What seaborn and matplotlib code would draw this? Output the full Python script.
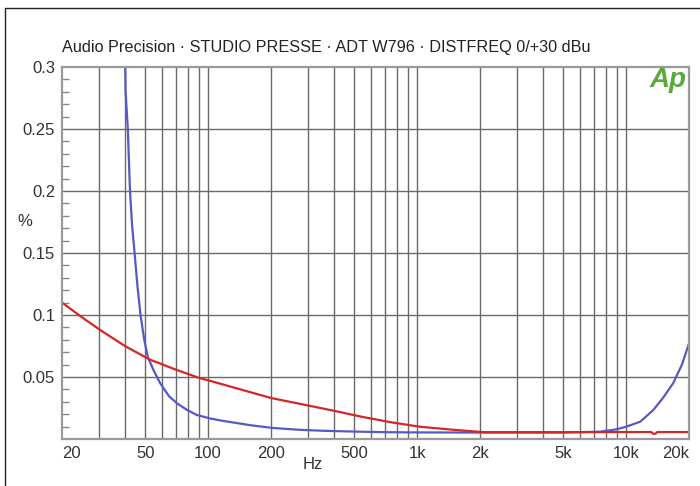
import numpy as np
import pandas as pd
import seaborn as sns
import matplotlib.pyplot as plt
from matplotlib.lines import Line2D

# THD+N vs frequency
blue_freq = [40, 40.3, 41.3, 42.3, 43.3, 44.5, 46, 47.5, 49.5, 51.5, 55, 59, 65, 71, 79,
             88, 102, 115, 132, 160, 204, 275, 360, 500, 700, 1000, 2000, 5000, 7500,
             9000, 10000, 11700, 13500, 15000, 16800, 18500, 20000]
blue_thd = [0.32, 0.28, 0.25, 0.20, 0.172, 0.15, 0.122, 0.10, 0.08, 0.066, 0.055, 0.045, 0.0345,
            0.0288, 0.0236, 0.0195, 0.0166, 0.0149, 0.0133, 0.0111, 0.0089, 0.0074, 0.0066,
            0.006, 0.0055, 0.0053, 0.0052, 0.0052, 0.0059, 0.0078, 0.0099, 0.014, 0.0234,
            0.033, 0.045, 0.06, 0.077]

red_freq = [20, 25, 30.4, 40, 52.7, 70, 91.5, 98.8, 150, 201, 327, 420, 541, 750, 1030,
            1520, 2100, 5000, 10000, 13200, 13500, 13800, 14100, 20000]
red_thd = [0.110, 0.098, 0.088, 0.075, 0.064, 0.056, 0.049, 0.0476, 0.039, 0.033,
           0.0258, 0.022, 0.018, 0.0135, 0.0099, 0.0073, 0.0055, 0.0055, 0.0056, 0.0056,
           0.0042, 0.0042, 0.0056, 0.0056]

xtick_vals = [20, 50, 100, 200, 500, 1000, 2000, 5000, 10000, 20000]
xtick_labels = ['20', '50', '100', '200', '500', '1k', '2k', '5k', '10k', '20k']
ytick_vals = [0.05, 0.1, 0.15, 0.2, 0.25, 0.3]
ytick_labels = ['0.05', '0.1', '0.15', '0.2', '0.25', '0.3']

title = 'Audio Precision \u00b7 STUDIO PRESSE \u00b7 ADT W796 \u00b7 DISTFREQ 0/+30 dBu'

sns.set_style('white')
plt.rcParams['font.family'] = ['Liberation Sans', 'DejaVu Sans']

W, H = 700, 486
fig = plt.figure(figsize=(7, 4.86), dpi=100)
ax = fig.add_axes([62 / W, 1 - 439 / H, (689 - 62) / W, (439 - 67) / H])

sns.lineplot(x=blue_freq, y=blue_thd, ax=ax, color='#5858c4', linewidth=1.6, sort=False)
sns.lineplot(x=red_freq, y=red_thd, ax=ax, color='#d42626', linewidth=1.6, sort=False)

ax.set_xscale('log')
ax.set_xlim(20, 20000)
ax.set_ylim(0, 0.3)

# grid: every 1-2-3..9 step in x, every 0.05 in y
for dec in [10, 100, 1000, 10000]:
    for m in range(1, 10):
        f = dec * m
        if 20 < f < 20000:
            ax.axvline(f, color='#6a6a6a', linewidth=1.0, zorder=0.5)
for v in ytick_vals[:-1]:
    ax.axhline(v, color='#6a6a6a', linewidth=1.0, zorder=0.5)

ax.set_xticks(xtick_vals)
ax.set_xticklabels(xtick_labels)
ax.xaxis.set_minor_locator(plt.NullLocator())
ax.tick_params(axis='x', length=0, pad=5, labelsize=12, labelcolor='#333333')
labels = ax.get_xticklabels()
labels[0].set_ha('left')
labels[-1].set_ha('right')

ax.set_yticks(ytick_vals)
ax.set_yticklabels(ytick_labels)
ax.set_yticks(np.arange(0.01, 0.3, 0.01), minor=True)
ax.tick_params(axis='y', which='major', direction='out', length=3, width=1,
               color='#888888', pad=2, labelsize=12, labelcolor='#333333')
ax.tick_params(axis='y', which='minor', direction='in', length=5, width=1,
               color='#888888', left=True)

for s in ax.spines.values():
    s.set_color('#9a9a9a')
    s.set_linewidth(1.6)
    s.set_visible(True)

ax.set_xlabel('')
ax.set_ylabel('')
fig.text(313 / W, 1 - 464 / H, 'Hz', ha='center', va='center', fontsize=12, color='#333333')
fig.text(25 / W, 1 - 221 / H, '%', ha='center', va='center', fontsize=12, color='#333333')
fig.text(62 / W, 1 - 47 / H, title, ha='left', va='center', fontsize=11.7, color='#222222')

# Ap logo
fig.text(687 / W, 1 - 67 / H, 'Ap', ha='right', va='top', fontsize=20,
         fontweight='bold', fontstyle='italic', color='#5aaa3a')

# outer frame (top and left edges visible)
fig.add_artist(Line2D([5 / W, 5 / W], [0, 1 - 8 / H], transform=fig.transFigure,
                      color='#222222', linewidth=1.0))
fig.add_artist(Line2D([5 / W, 1], [1 - 8 / H, 1 - 8 / H], transform=fig.transFigure,
                      color='#222222', linewidth=1.0))

fig.savefig('out.png', dpi=100)
